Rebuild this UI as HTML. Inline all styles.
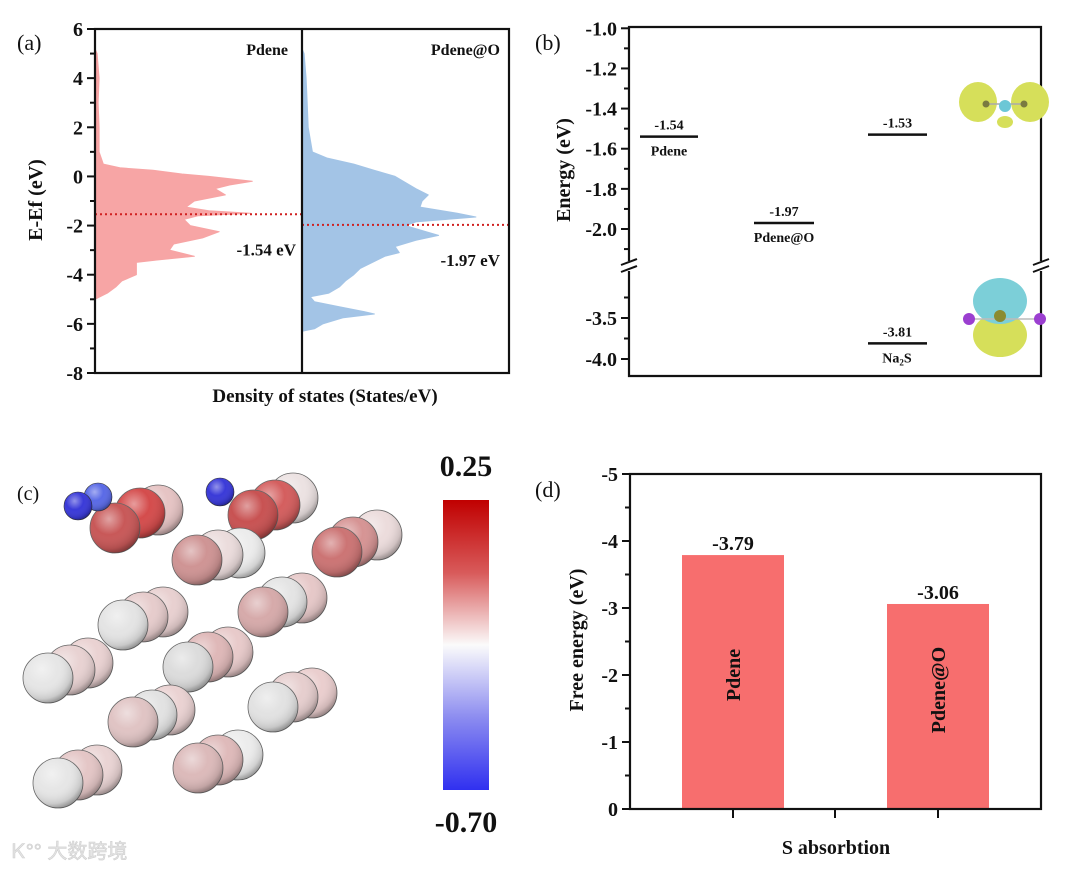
<!DOCTYPE html>
<html><head><meta charset="utf-8"><style>
html,body{margin:0;padding:0;background:#fff;}
svg{display:block;font-family:"Liberation Serif","Noto Serif CJK SC",serif;}
.t{font-weight:bold;fill:#111;}
</style></head><body>
<svg id="fig" width="1080" height="870" viewBox="0 0 1080 870" xmlns="http://www.w3.org/2000/svg">
<defs>
<linearGradient id="cbar" x1="0" y1="0" x2="0" y2="1">
<stop offset="0" stop-color="#c00000"/><stop offset="0.25" stop-color="#d85a5a"/><stop offset="0.5" stop-color="#fbfbfb"/><stop offset="0.75" stop-color="#8c8cf0"/><stop offset="1" stop-color="#3030f0"/>
</linearGradient>
<radialGradient id="shade" cx="0.38" cy="0.32" r="0.7">
<stop offset="0" stop-color="#fff" stop-opacity="0.45"/><stop offset="0.45" stop-color="#fff" stop-opacity="0"/><stop offset="0.85" stop-color="#000" stop-opacity="0.12"/><stop offset="1" stop-color="#000" stop-opacity="0.35"/>
</radialGradient>
</defs>
<g id="pa"></g>
<g id="pb"></g>
<g id="pc"></g>
<g id="pd"></g>
<text x="12" y="858" font-family="Liberation Sans,Noto Sans CJK SC,sans-serif" font-size="20" fill="#e4e4e4" stroke="#cfcfcf" stroke-width="0.6">Ꮶ°° 大数跨境</text>
</svg>
<script>
// ---------- Panel (a) data ----------
const pdeneEnergy = [5.2,5,4,3,2,1,0.5,0.35,0.25,0.1,0,-0.2,-0.35,-0.5,-0.75,-1.0,-1.25,-1.4,-1.5,-1.6,-1.75,-2.0,-2.25,-2.5,-2.75,-3.0,-3.25,-3.4,-3.5,-3.75,-4.0,-4.25,-4.5,-4.75,-5.0];
const dosPdene  = [0,0.1,0.2,0.15,0.2,0.2,0.4,1.2,2.8,4.2,5.5,7.6,6.5,5.8,6.3,4.8,4.4,5.5,7.5,5.0,4.3,4.6,6.0,5.2,3.8,3.6,4.8,3.0,2.0,2.0,2.0,1.3,1.0,0.6,0];
const oEnergy = [5.2,5,4,3,2,1,0.75,0.5,0.25,0,-0.25,-0.5,-0.75,-1.0,-1.25,-1.5,-1.65,-1.85,-2.0,-2.25,-2.4,-2.6,-2.85,-3.1,-3.25,-3.5,-3.75,-4.0,-4.25,-4.5,-4.75,-4.9,-5.1,-5.3,-5.5,-5.6,-5.75,-6.0,-6.2,-6.3];
const dosPdeneO = [0,0.1,0.2,0.25,0.3,0.5,1.2,2.5,3.5,4.5,5.0,5.5,6.1,5.8,5.7,7.5,8.4,5.5,5.0,6.0,6.6,5.5,4.5,4.7,4.0,3.4,2.8,2.5,2.1,1.8,1.3,0.4,0.6,1.8,3.0,3.5,2.0,1.0,0.6,0];
const fermiLevels = [-1.54,-1.97];
const fermiLabels = ["-1.54 eV","-1.97 eV"];
const panelATitles = ["Pdene","Pdene@O"];
const aTicks = [6,4,2,0,-2,-4,-6,-8];
// ---------- Panel (b) data ----------
const levelNames = ["Pdene","Pdene@O","Na2S-top","Na2S"];
const levelValues = [-1.54,-1.97,-1.53,-3.81];
const levelLabels = ["-1.54","-1.97","-1.53","-3.81"];
const levelSub = ["Pdene","Pdene@O","",""];
const bTicksUpper = [-1.0,-1.2,-1.4,-1.6,-1.8,-2.0];
const bTicksLower = [-3.5,-4.0];
// ---------- Panel (d) data ----------
const barCats = ["Pdene","Pdene@O"];
const barValues = [-3.79,-3.06];
const barLabels = ["-3.79","-3.06"];
const dTicks = [-5,-4,-3,-2,-1,0];

const NS="http://www.w3.org/2000/svg";
function mk(p,tag,at,txt){const e=document.createElementNS(NS,tag);for(const k in at)e.setAttribute(k,at[k]);if(txt!==undefined)e.textContent=txt;p.appendChild(e);return e;}

// ===== Panel A =====
(function(){
const g=document.getElementById('pa');
const L=95,M=302,R=509,T=29,B=373;
const y=v=>T+(6-v)*(B-T)/14;
const xs=[v=>L+v*20.7, v=>M+v*20.7];
const sers=[dosPdene,dosPdeneO], ens=[pdeneEnergy,oEnergy], cols=["#f7a5a5","#a3c4e6"];
sers.forEach((s,i)=>{
  const E=ens[i];
  let d=`M${xs[i](0)},${y(E[0])}`;
  E.forEach((e,j)=>{d+=` L${xs[i](s[j]).toFixed(1)},${y(e).toFixed(1)}`;});
  d+=` L${xs[i](0)},${y(E[E.length-1])} Z`;
  const p=mk(g,'path',{d:d,fill:cols[i],stroke:cols[i],'stroke-width':1,'stroke-linejoin':'round'});
  
  
});
fermiLevels.forEach((f,i)=>{
  const l=mk(g,'line',{x1:i?M:L,x2:i?R:M,y1:y(f),y2:y(f),stroke:'#d02020','stroke-width':2,'stroke-dasharray':'2,3'});
  
  
  const t=mk(g,'text',{x:i?500:296,y:y(f)+41,'text-anchor':'end','font-size':17,class:'t'},fermiLabels[i]);
  
  
});
mk(g,'rect',{x:L,y:T,width:R-L,height:B-T,fill:'none',stroke:'#111','stroke-width':2.2});
mk(g,'line',{x1:M,x2:M,y1:T,y2:B,stroke:'#111','stroke-width':2.2});
for(let v=6;v>=-8;v--){mk(g,'line',{x1:L-(v%2===0?8:5),x2:L,y1:y(v),y2:y(v),stroke:'#111','stroke-width':2});}
aTicks.forEach(v=>{const t=mk(g,'text',{x:L-12,y:y(v)+7,'text-anchor':'end','font-size':20,class:'t'},String(v));
 });
panelATitles.forEach((s,i)=>{const t=mk(g,'text',{x:i?500:288,y:55,'text-anchor':'end','font-size':16,class:'t'},s);
 });
const yl=mk(g,'text',{x:0,y:0,transform:'translate(42,200) rotate(-90)','text-anchor':'middle','font-size':20,class:'t'},'E-Ef (eV)');

const xl=mk(g,'text',{x:325,y:402,'text-anchor':'middle','font-size':19,class:'t'},'Density of states (States/eV)');

const pl=mk(g,'text',{x:17,y:50,'font-size':22,fill:'#111'},'(a)');

})();

// ===== Panel B =====
(function(){
const g=document.getElementById('pb');
const L=629,R=1041,T=27,B=376,BR=266;
const y=v=> v>=-2.2 ? 28.3+(-1.0-v)*200.7 : 318+(-3.5-v)*82;
const lx=[[640,698],[754,814],[868,927],[868,927]];
levelValues.forEach((v,i)=>{
  const l=mk(g,'line',{x1:lx[i][0],x2:lx[i][1],y1:y(v),y2:y(v),stroke:'#111','stroke-width':2.5});
  
  
  const c=(lx[i][0]+lx[i][1])/2;
  const t=mk(g,'text',{x:c,y:y(v)-7,'text-anchor':'middle','font-size':14,class:'t'},levelLabels[i]);
  
  if(levelSub[i]){const s=mk(g,'text',{x:c,y:y(v)+19,'text-anchor':'middle','font-size':14,class:'t'},levelSub[i]);
   }
});
const na=mk(g,'text',{x:897,y:y(-3.81)+19,'text-anchor':'middle','font-size':14,class:'t'});
na.innerHTML='Na<tspan font-size="9" dy="3">2</tspan><tspan dy="-3">S</tspan>';

mk(g,'path',{d:`M${L},${BR-5} L${L},${T} L${R},${T} L${R},${BR-5} M${L},${BR+5} L${L},${B} L${R},${B} L${R},${BR+5}`,fill:'none',stroke:'#111','stroke-width':2.2});
[L,R].forEach(x=>{mk(g,'path',{d:`M${x-8},${BR-1} L${x+8},${BR-7} M${x-8},${BR+6} L${x+8},${BR}`,stroke:'#111','stroke-width':2});});
for(let k=0;k<=11;k++){const v=-1.0-k*0.1;mk(g,'line',{x1:L-(k%2===0?8:5),x2:L,y1:y(v),y2:y(v),stroke:'#111','stroke-width':2});}
[-3.25,-3.5,-3.75,-4.0].forEach((v,k)=>{mk(g,'line',{x1:L-(k%2===1?8:5),x2:L,y1:y(v),y2:y(v),stroke:'#111','stroke-width':2});});
bTicksUpper.concat(bTicksLower).forEach(v=>{const t=mk(g,'text',{x:L-12,y:y(v)+7,'text-anchor':'end','font-size':20,class:'t'},v.toFixed(1));
 });
const yl=mk(g,'text',{x:0,y:0,transform:'translate(570,170) rotate(-90)','text-anchor':'middle','font-size':20,class:'t'},'Energy (eV)');

const pl=mk(g,'text',{x:535,y:50,'font-size':22,fill:'#111'},'(b)');

const o1=mk(g,'g',{});
mk(o1,'ellipse',{cx:978,cy:102,rx:19,ry:20,fill:'#d6df5a'});
mk(o1,'ellipse',{cx:1030,cy:102,rx:19,ry:20,fill:'#d6df5a'});
mk(o1,'ellipse',{cx:1005,cy:122,rx:8,ry:6,fill:'#d6df5a'});
mk(o1,'line',{x1:986,y1:104,x2:1024,y2:104,stroke:'#aaa','stroke-width':1.5});
mk(o1,'circle',{cx:1005,cy:106,r:6,fill:'#6cc7d6'});
mk(o1,'circle',{cx:986,cy:104,r:3.5,fill:'#7a7a40'});mk(o1,'circle',{cx:1024,cy:104,r:3.5,fill:'#7a7a40'});
const o2=mk(g,'g',{});
mk(o2,'ellipse',{cx:1000,cy:335,rx:27,ry:22,fill:'#d6df5a'});
mk(o2,'ellipse',{cx:1000,cy:301,rx:27,ry:23,fill:'#7ccfd8'});
mk(o2,'line',{x1:969,y1:319,x2:1040,y2:319,stroke:'#bbb','stroke-width':1.5});
mk(o2,'circle',{cx:1000,cy:316,r:6,fill:'#8b8b30'});
mk(o2,'circle',{cx:969,cy:319,r:6,fill:'#9b3fd0'});mk(o2,'circle',{cx:1040,cy:319,r:6,fill:'#9b3fd0'});
})();

// ===== Panel C =====
(function(){
const g=document.getElementById('pc');
const groups=[
 [[158,510,'#e6c4c4'],[140,513,'#d44c4c'],[115,528,'#c85858']],
 [[293,498,'#ece2e2'],[275,505,'#d45e5e'],[253,515,'#c85252']],
 [[240,553,'#ececec'],[218,555,'#ebdcdc'],[197,560,'#cf9494']],
 [[377,535,'#ecdcdc'],[353,542,'#d69494'],[337,552,'#cc7474']],
 [[163,612,'#e8d0d0'],[143,617,'#e6cccc'],[123,625,'#e4e4e4']],
 [[302,598,'#e6c8c8'],[282,602,'#e4e4e4'],[263,612,'#d6aaaa']],
 [[88,663,'#ead2d2'],[70,670,'#e8d2d2'],[48,678,'#e6e6e6']],
 [[228,652,'#e8caca'],[208,657,'#dfb8b8'],[188,667,'#dcdcdc']],
 [[170,710,'#ead2d2'],[152,715,'#e2e2e2'],[133,722,'#e0c4c4']],
 [[312,693,'#eacece'],[293,697,'#e6cece'],[273,707,'#e2e2e2']],
 [[97,770,'#ead4d4'],[78,775,'#e4c6c6'],[58,783,'#e6e6e6']],
 [[238,755,'#ececec'],[218,760,'#dfbaba'],[198,768,'#dcbaba']]
];
groups.forEach((grp,i)=>{
 const gg=mk(g,'g',{});
 grp.forEach(a=>{mk(gg,'circle',{cx:a[0],cy:a[1],r:25,fill:a[2],stroke:'#666','stroke-width':0.8});
  mk(gg,'circle',{cx:a[0],cy:a[1],r:25,fill:'url(#shade)'});});
});
[[98,497],[78,506],[220,492]].forEach(a=>{const c=mk(g,'circle',{cx:a[0],cy:a[1],r:14,fill:a[0]===98?'#5a6ae6':'#3a3ad8',stroke:'#333','stroke-width':0.6});
 
 mk(g,'circle',{cx:a[0],cy:a[1],r:14,fill:'url(#shade)'});});
const cb=mk(g,'rect',{x:443,y:500,width:46,height:290,fill:'url(#cbar)'});

const t1=mk(g,'text',{x:466,y:476,'text-anchor':'middle','font-size':30,class:'t'},'0.25');

const t2=mk(g,'text',{x:466,y:832,'text-anchor':'middle','font-size':30,class:'t'},'-0.70');

const pl=mk(g,'text',{x:17,y:500,'font-size':20,fill:'#111'},'(c)');

})();

// ===== Panel D =====
(function(){
const g=document.getElementById('pd');
const L=630,R=1041,T=474,B=809;
const y=v=>B+(v/5)*(B-T);
const xc=[733,938];
barValues.forEach((v,i)=>{
 const r=mk(g,'rect',{x:xc[i]-51,y:y(v),width:102,height:B-y(v),fill:'#f76e6e'});
 
 
 const t=mk(g,'text',{x:xc[i],y:y(v)-5,'text-anchor':'middle','font-size':20,class:'t'},barLabels[i]);
 
 const n=mk(g,'text',{x:0,y:0,transform:`translate(${xc[i]+7},${i?690:675}) rotate(-90)`,'text-anchor':'middle','font-size':20,class:'t'},barCats[i]);
 
});
mk(g,'rect',{x:L,y:T,width:R-L,height:B-T,fill:'none',stroke:'#111','stroke-width':2.2});
for(let k=0;k<=10;k++){const v=-k*0.5;mk(g,'line',{x1:L-(k%2===0?8:5),x2:L,y1:y(v),y2:y(v),stroke:'#111','stroke-width':2});}
[733,835,938].forEach(x=>mk(g,'line',{x1:x,x2:x,y1:B,y2:B+9,stroke:'#111','stroke-width':2}));
dTicks.forEach(v=>{const t=mk(g,'text',{x:L-12,y:y(v)+7,'text-anchor':'end','font-size':20,class:'t'},String(v));
 });
const yl=mk(g,'text',{x:0,y:0,transform:'translate(583,640) rotate(-90)','text-anchor':'middle','font-size':20,class:'t'},'Free energy (eV)');

const xl=mk(g,'text',{x:836,y:854,'text-anchor':'middle','font-size':20,class:'t'},'S absorbtion');

const pl=mk(g,'text',{x:535,y:497,'font-size':22,fill:'#111'},'(d)');

})();
</script>
</body></html>
